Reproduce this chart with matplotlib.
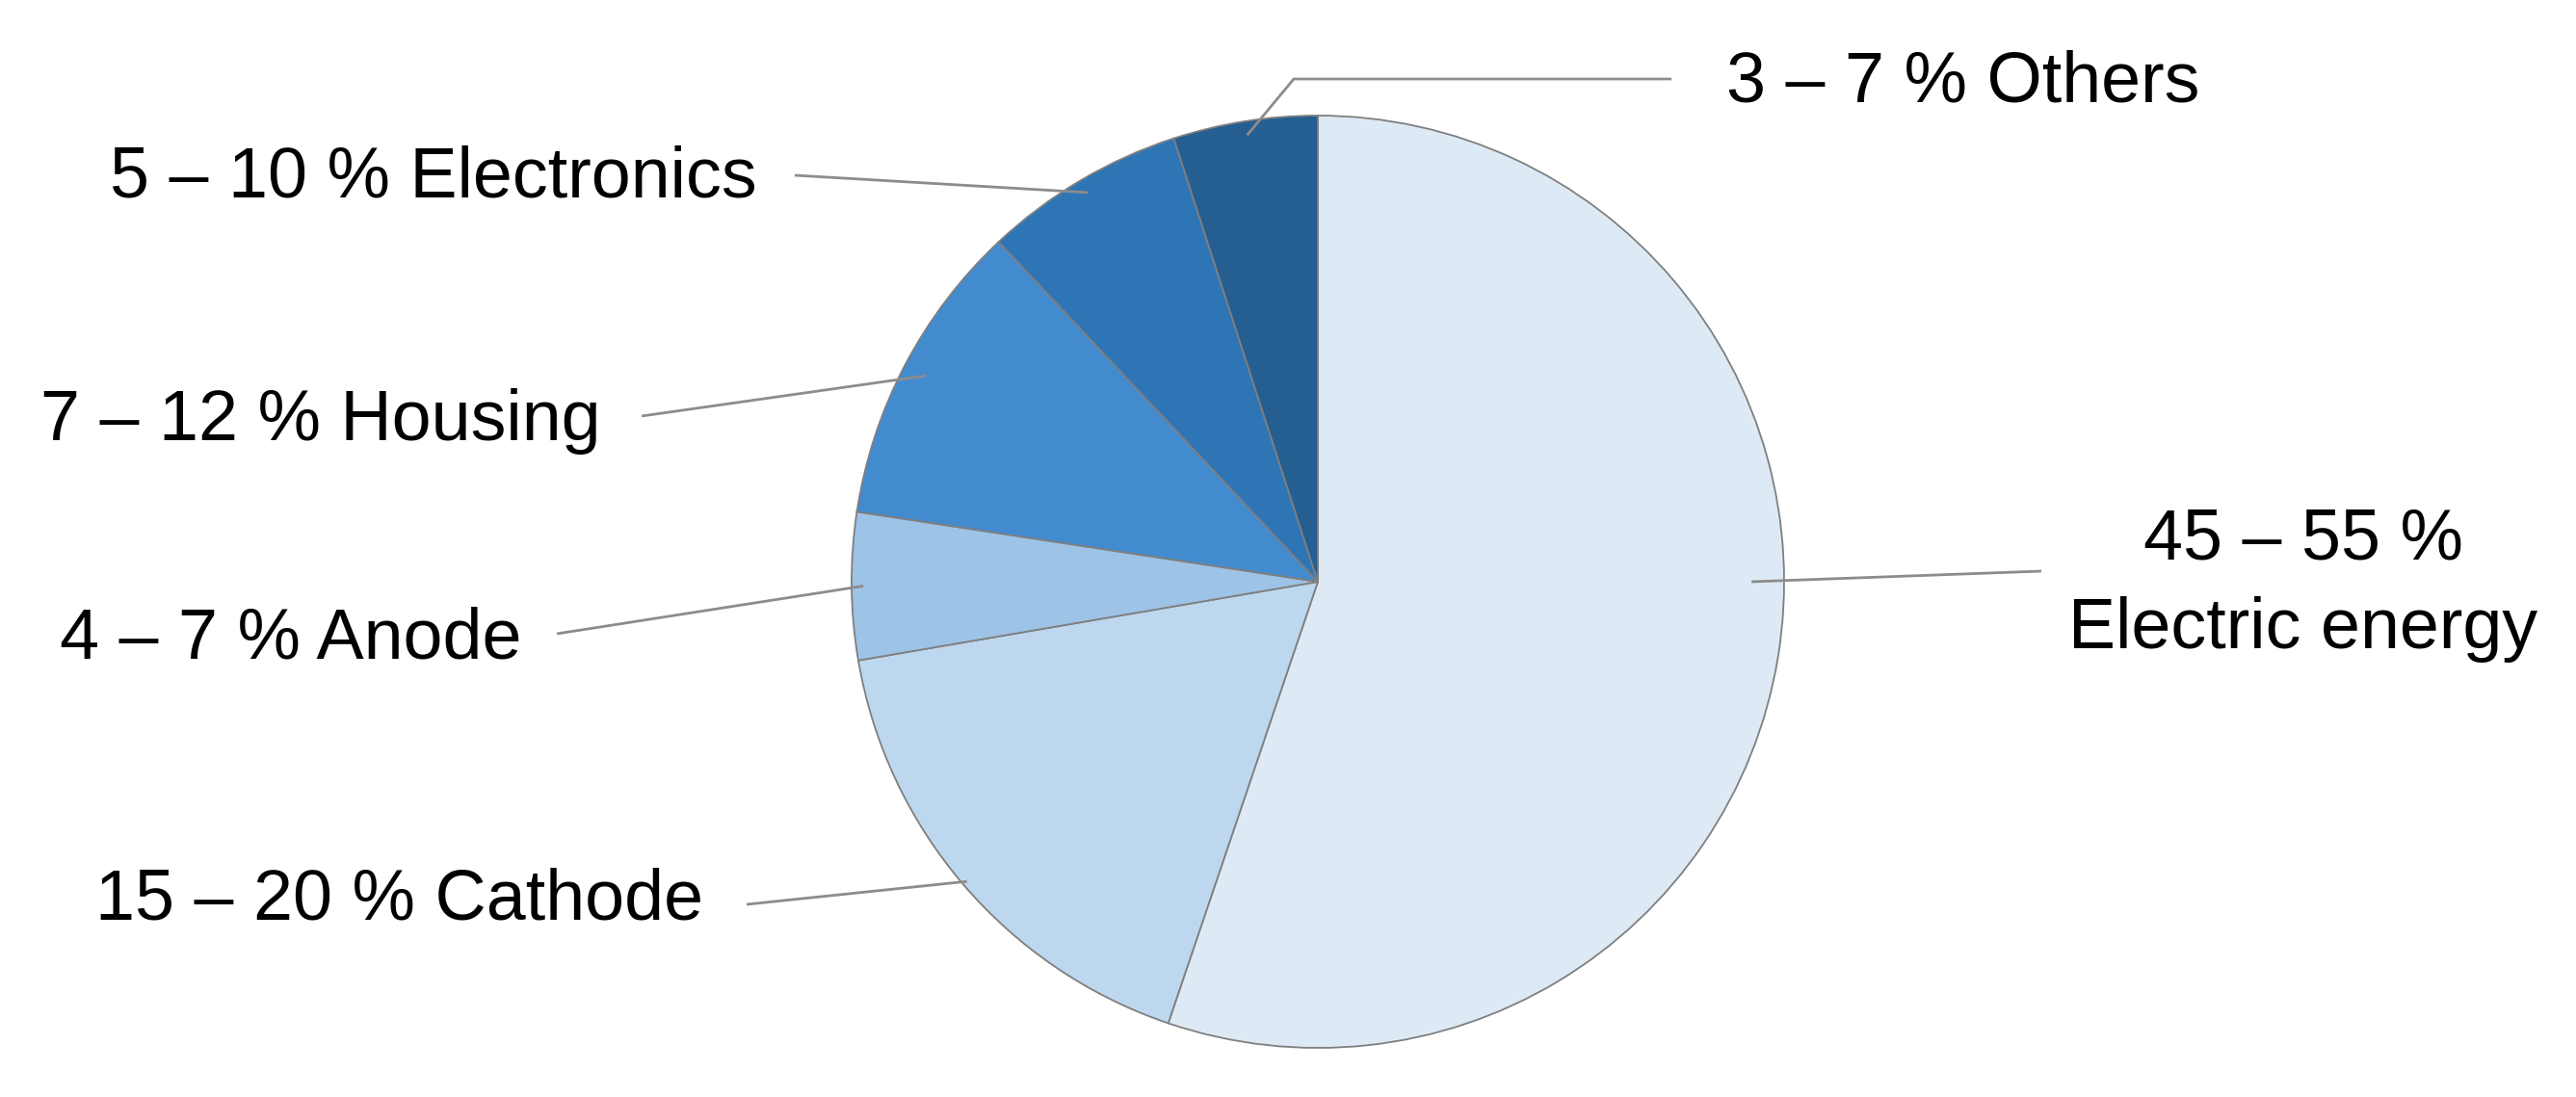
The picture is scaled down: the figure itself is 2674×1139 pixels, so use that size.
import matplotlib
matplotlib.use("Agg")
import matplotlib.pyplot as plt
import numpy as np

# ---- data ----
categories = ["Electric energy", "Cathode", "Anode", "Housing", "Electronics", "Others"]
shares = [55.2, 17.1, 5.1, 10.6, 7.0, 5.0]
label_texts = ["45 – 55 %\nElectric energy", "15 – 20 % Cathode", "4 – 7 % Anode",
               "7 – 12 % Housing", "5 – 10 % Electronics", "3 – 7 % Others"]
colors = ["#DDEAF6", "#BDD7EE", "#9DC3E6", "#438BCF", "#2E75B6", "#255E91"]

plt.rcParams['font.family'] = ['Liberation Sans', 'DejaVu Sans']

W, H, DPI = 2674, 1139, 100
fig = plt.figure(figsize=(W / DPI, H / DPI), dpi=DPI)
ax = fig.add_axes([0, 0, 1, 1])

CX, CY, R = 1368, 604, 484  # pie centre / radius in pixels


def p2d(px, py):
    return (px - CX) / R, (CY - py) / R


wedges, _ = ax.pie(shares, colors=colors, startangle=90, counterclock=False,
                   radius=1.0, center=(0, 0),
                   wedgeprops=dict(edgecolor="#7F7F7F", linewidth=1.3))
ax.set_xlim((0 - CX) / R, (W - CX) / R)
ax.set_ylim((CY - H) / R, CY / R)
ax.set_aspect('equal')
ax.axis('off')

FS = 53
LC = "#8C8C8C"
LW = 2.0

# label layout: (text anchor px, ha, leader outer end px, inner radius, angle override)
layout = {
    "Electric energy": dict(xy=(2391, 673), ha="center", outer=(2119, 593), r=0.93, ang=0.0),
    "Cathode": dict(xy=(730, 954), ha="right", outer=(775, 939), r=0.99, ang=None),
    "Anode": dict(xy=(541, 683), ha="right", outer=(578, 658), r=0.975, ang=None),
    "Housing": dict(xy=(624, 457), ha="right", outer=(666, 432), r=0.95, ang=None),
    "Electronics": dict(xy=(786, 204), ha="right", outer=(825, 182), r=0.97, ang=None),
    "Others": dict(xy=(1792, 106), ha="left", outer=(1735, 82), r=0.97, ang=None,
                   elbow=(1343, 82)),
}

for w, cat, txt in zip(wedges, categories, label_texts):
    L = layout[cat]
    ang = L["ang"] if L["ang"] is not None else 0.5 * (w.theta1 + w.theta2)
    ix, iy = L["r"] * np.cos(np.radians(ang)), L["r"] * np.sin(np.radians(ang))
    pts = [(ix, iy)]
    if "elbow" in L:
        pts.append(p2d(*L["elbow"]))
    pts.append(p2d(*L["outer"]))
    xs, ys = zip(*pts)
    ax.plot(xs, ys, color=LC, lw=LW, solid_capstyle="butt", zorder=5)
    tx, ty = p2d(*L["xy"])
    ax.text(tx, ty, txt, ha=L["ha"], va="baseline", fontsize=FS, color="black",
            multialignment="center", linespacing=1.44)

fig.savefig("out.png", dpi=DPI, facecolor="white")
